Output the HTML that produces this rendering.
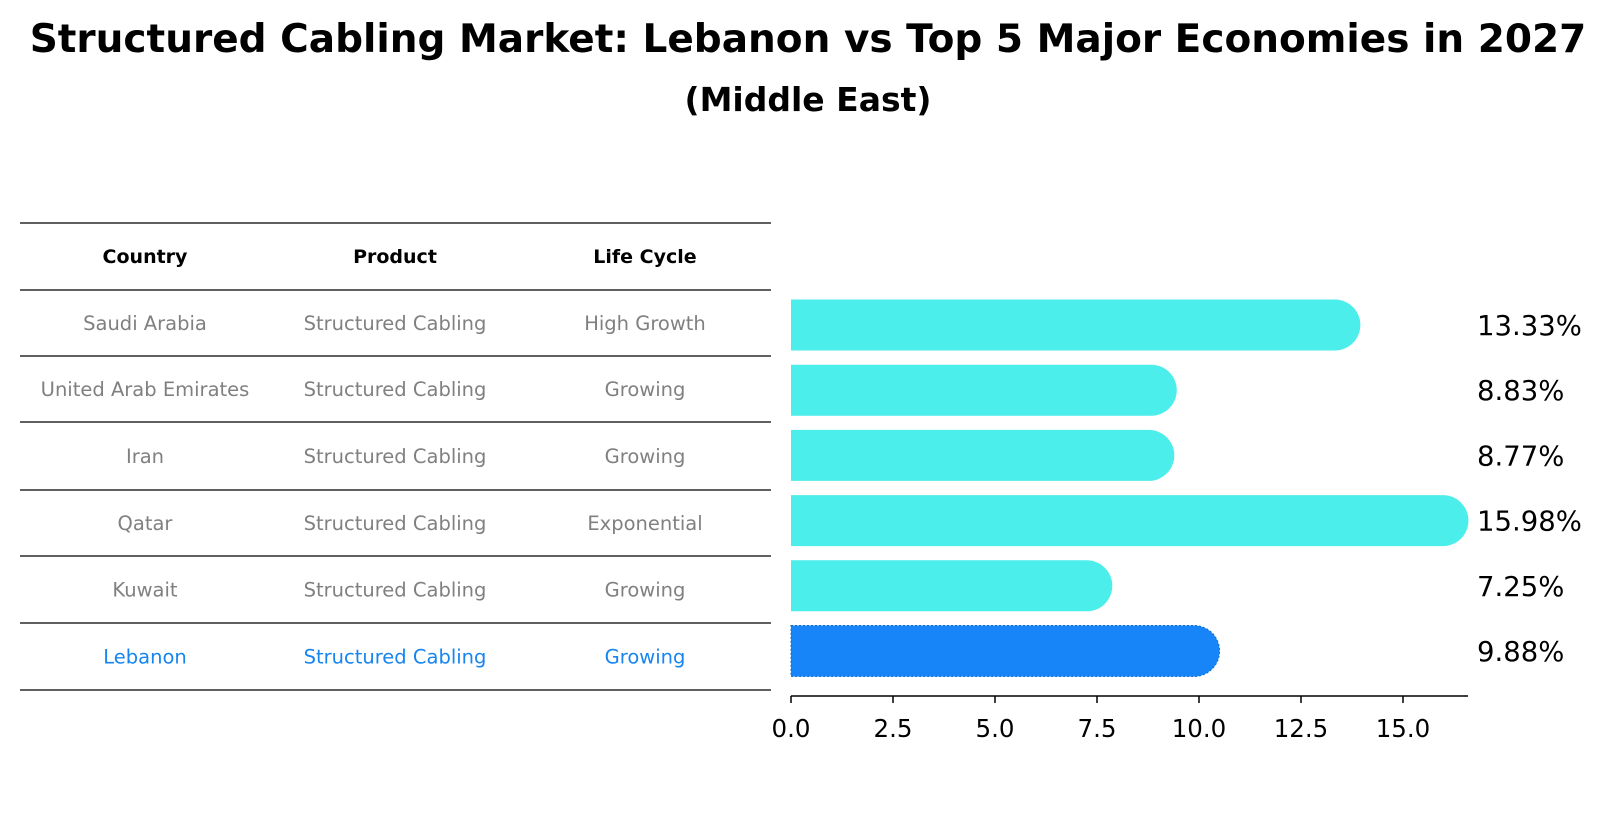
<!DOCTYPE html>
<html><head><meta charset="utf-8"><style>
body{margin:0;background:#fff;}
svg{display:block;font-family:"DejaVu Sans","Liberation Sans",sans-serif;}
</style></head><body>
<svg id="chart" width="1604" height="823" viewBox="0 0 1604 823">
<text x="808" y="52" text-anchor="middle" font-size="39" font-weight="bold">Structured Cabling Market: Lebanon vs Top 5 Major Economies in 2027</text>
<text x="808" y="111" text-anchor="middle" font-size="33" font-weight="bold">(Middle East)</text>
<g id="table"></g>
<g id="bars"></g>
</svg>
<script>
const countries=["Saudi Arabia","United Arab Emirates","Iran","Qatar","Kuwait","Lebanon"];
const products=["Structured Cabling","Structured Cabling","Structured Cabling","Structured Cabling","Structured Cabling","Structured Cabling"];
const lifeCycles=["High Growth","Growing","Growing","Exponential","Growing","Growing"];
const values=[13.33,8.83,8.77,15.98,7.25,9.88];
const valueLabels=["13.33%","8.83%","8.77%","15.98%","7.25%","9.88%"];
const ticks=[0,2.5,5,7.5,10,12.5,15];
const tickLabels=["0.0","2.5","5.0","7.5","10.0","12.5","15.0"];

const NS="http://www.w3.org/2000/svg";
function mk(tag,attrs,parent){const e=document.createElementNS(NS,tag);for(const k in attrs)e.setAttribute(k,attrs[k]);parent.appendChild(e);return e;}
const x0=791, unit=40.8;
const xs=v=>x0+v*unit;
const rowY=i=>325+i*65.2;
const barH=51;

// table
const tg=document.getElementById('table');
const lines=[223,290,356,422,490,556,623,690];
lines.forEach((y,i)=>{
  const l=mk('line',{x1:20,x2:771,y1:y,y2:y,stroke:'#000','stroke-width':1.2},tg);
  
  
});
const colX=[145,395,645];
["Country","Product","Life Cycle"].forEach((h,j)=>{
  const t=mk('text',{x:colX[j],y:263,'text-anchor':'middle','font-size':19,'font-weight':'bold'},tg);
  t.textContent=h;
  
  
});
countries.forEach((c,i)=>{
  const y=(lines[i+1]+lines[i+2])/2+7;
  const col=c==="Lebanon"?"#1785f0":"#808080";
  [c,products[i],lifeCycles[i]].forEach((s,j)=>{
    const t=mk('text',{x:colX[j],y:y,'text-anchor':'middle','font-size':19.5,fill:col},tg);
    t.textContent=s;
    
    
  });
});

// bars
const bg=document.getElementById('bars');
values.forEach((v,i)=>{
  const cy=rowY(i);
  const leb=countries[i]==="Lebanon";
  const col=leb?"#1785f7":"#4beeea";
  const w=xs(v)-x0;
  const p=mk('path',{d:`M${x0},${cy-barH/2} H${x0+w} A${barH/2},${barH/2} 0 0 1 ${x0+w},${cy+barH/2} H${x0} Z`,fill:col},bg);
  if(leb){p.setAttribute('stroke','#0f6fd0');p.setAttribute('stroke-dasharray','2 2');p.setAttribute('stroke-width','1');}
  
  
  const t=mk('text',{x:1477,y:cy+10,'font-size':27.5},bg);
  t.textContent=valueLabels[i];
  
  
});
const ax=mk('line',{x1:x0,x2:1468,y1:696,y2:696,stroke:'#000','stroke-width':1.5},bg);


ticks.forEach((v,i)=>{
  const tk=mk('line',{x1:xs(v),x2:xs(v),y1:696,y2:703,stroke:'#000','stroke-width':1.5},bg);
  
  
  const t=mk('text',{x:xs(v),y:737,'text-anchor':'middle','font-size':24.5},bg);
  t.textContent=tickLabels[i];
  
  
});
</script>
</body></html>
